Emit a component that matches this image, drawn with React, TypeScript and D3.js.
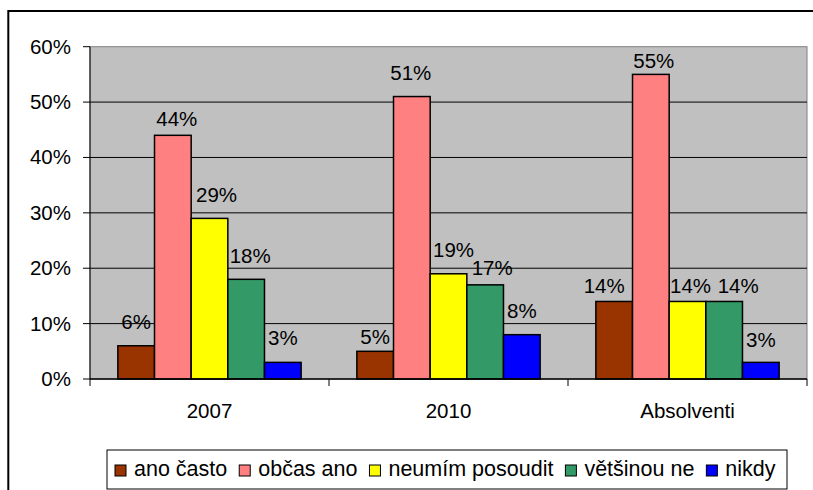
import React, { useEffect, useRef } from "react";
import * as d3 from "d3";

const categories = ["2007", "2010", "Absolventi"];
const seriesNames = ["ano často", "občas ano", "neumím posoudit", "většinou ne", "nikdy"];
const seriesColors = ["#993300", "#FF8080", "#FFFF00", "#339966", "#0000FF"];
const values2007 = [0.06, 0.44, 0.29, 0.18, 0.03];
const values2010 = [0.05, 0.51, 0.19, 0.17, 0.08];
const valuesAbs = [0.14, 0.55, 0.14, 0.14, 0.03];
const yTicks = [0, 0.1, 0.2, 0.3, 0.4, 0.5, 0.6];

// label nudges (style only)
const labelDx = [
  [0, 4, 7, 4, 0],
  [0, -1, 5, 7, 0],
  [-10, 3, 3, 14, 0],
];
const labelGap = [
  [17, 9, 16, 16, 17],
  [7, 17, 17, 10, 17],
  [8, 6, 8, 8, 15],
];

const FONT = "'Liberation Sans', Arial, sans-serif";

export default function App() {
  const ref = useRef<SVGSVGElement>(null);

  useEffect(() => {
    const svg = d3.select(ref.current);
    svg.selectAll("*").remove();
    const data = [values2007, values2010, valuesAbs];

    const left = 90, right = 807, top = 46.7, bottom = 379;
    const y = d3.scaleLinear().domain([0, 0.6]).range([bottom, top]);
    const x0 = d3.scaleBand().domain(categories).range([left, right]).padding(0);
    const x1 = d3
      .scaleBand()
      .domain(seriesNames)
      .range([0, x0.bandwidth()])
      .paddingInner(0)
      .paddingOuter(0.76);

    // outer frame
    svg.append("rect")
      .attr("x", 8.3).attr("y", 11)
      .attr("width", 900).attr("height", 600)
      .attr("fill", "white").attr("stroke", "#000").attr("stroke-width", 2);

    // plot background
    svg.append("rect")
      .attr("x", left).attr("y", top)
      .attr("width", right - left).attr("height", bottom - top)
      .attr("fill", "#C0C0C0").attr("stroke", "#808080").attr("stroke-width", 1);

    // gridlines
    svg.append("g").selectAll("line")
      .data(yTicks.filter((t) => t > 0 && t < 0.6))
      .join("line")
      .attr("x1", left).attr("x2", right)
      .attr("y1", (d) => y(d)).attr("y2", (d) => y(d))
      .attr("stroke", "#000").attr("stroke-width", 1);

    // y axis
    svg.append("line")
      .attr("x1", left).attr("x2", left).attr("y1", top).attr("y2", bottom)
      .attr("stroke", "#000").attr("stroke-width", 1);
    const yt = svg.append("g");
    yt.selectAll("line").data(yTicks).join("line")
      .attr("x1", left - 7).attr("x2", left)
      .attr("y1", (d) => y(d)).attr("y2", (d) => y(d))
      .attr("stroke", "#000");
    yt.selectAll("text").data(yTicks).join("text")
      .attr("x", 71).attr("y", (d) => y(d) + 7)
      .attr("text-anchor", "end")
      .attr("font-family", FONT).attr("font-size", 20.5)
      .text((d) => d3.format(".0%")(d));

    // bars
    data.forEach((vals, ci) => {
      const cat = categories[ci];
      const g = svg.append("g").attr("transform", `translate(${x0(cat)},0)`);
      g.selectAll("rect").data(vals).join("rect")
        .attr("x", (_, i) => x1(seriesNames[i])!)
        .attr("y", (d) => y(d))
        .attr("width", x1.bandwidth())
        .attr("height", (d) => bottom - y(d))
        .attr("fill", (_, i) => seriesColors[i])
        .attr("stroke", "#000").attr("stroke-width", 1.5);
      g.selectAll("text").data(vals).join("text")
        .attr("x", (_, i) => x1(seriesNames[i])! + x1.bandwidth() / 2 + labelDx[ci][i])
        .attr("y", (d, i) => y(d) - labelGap[ci][i])
        .attr("text-anchor", "middle")
        .attr("font-family", FONT).attr("font-size", 20.5)
        .text((d) => d3.format(".0%")(d));
    });

    // x axis
    svg.append("line")
      .attr("x1", left).attr("x2", right).attr("y1", bottom).attr("y2", bottom)
      .attr("stroke", "#000").attr("stroke-width", 1.5);
    const xt = svg.append("g");
    const bounds = [...categories.map((c) => x0(c)!), right];
    xt.selectAll("line").data(bounds).join("line")
      .attr("x1", (d) => d).attr("x2", (d) => d)
      .attr("y1", bottom).attr("y2", bottom + 7)
      .attr("stroke", "#000");
    xt.selectAll("text").data(categories).join("text")
      .attr("x", (d) => x0(d)! + x0.bandwidth() / 2)
      .attr("y", 418)
      .attr("text-anchor", "middle")
      .attr("font-family", FONT).attr("font-size", 20.5)
      .text((d) => d);

    // legend
    svg.append("rect")
      .attr("x", 107).attr("y", 450).attr("width", 680).attr("height", 39)
      .attr("fill", "white").attr("stroke", "#000").attr("stroke-width", 1);
    let cx = 115;
    seriesNames.forEach((name, i) => {
      svg.append("rect")
        .attr("x", cx).attr("y", 465).attr("width", 11).attr("height", 11)
        .attr("fill", seriesColors[i]).attr("stroke", "#000").attr("stroke-width", 1);
      const t = svg.append("text")
        .attr("x", cx + 19).attr("y", 475.5)
        .attr("font-family", FONT).attr("font-size", 21.5)
        .text(name);
      const w = (t.node() as SVGTextElement).getComputedTextLength();
      cx = cx + 19 + w + 12;
    });
  }, []);

  return (
    <svg
      ref={ref}
      width={813}
      height={490}
      style={{ position: "absolute", left: 0, top: 0, background: "white" }}
    />
  );
}
